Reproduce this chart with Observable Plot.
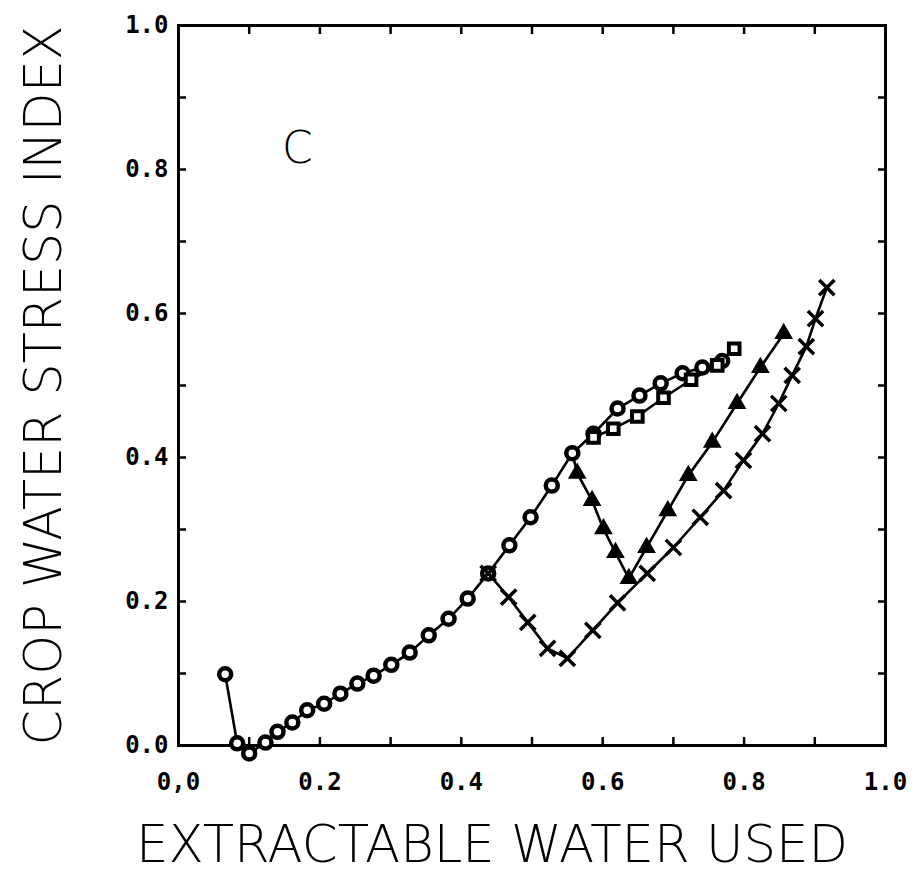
<!DOCTYPE html>
<html>
<head>
<meta charset="utf-8">
<script src="https://cdn.jsdelivr.net/npm/d3@7"></script>
<script src="https://cdn.jsdelivr.net/npm/@observablehq/plot@0.6"></script>
<style>
  html, body { margin: 0; padding: 0; background: #fff; }
  #chart { width: 918px; height: 889px; }
</style>
</head>
<body>
<div id="chart"></div>
<script>
// Tick values and labels
const xLabelTicks = [0, 0.2, 0.4, 0.6, 0.8, 1.0];
const xLabelTexts = ["0,0", "0.2", "0.4", "0.6", "0.8", "1.0"];
const yLabelTicks = [0, 0.2, 0.4, 0.6, 0.8, 1.0];
const yLabelTexts = ["0.0", "0.2", "0.4", "0.6", "0.8", "1.0"];
const minorTicks = [0.1, 0.2, 0.3, 0.4, 0.5, 0.6, 0.7, 0.8, 0.9];

// Series: open circles (main curve)
const circleX = [0.066, 0.083, 0.100, 0.123, 0.140, 0.161, 0.182, 0.206, 0.229, 0.253, 0.276, 0.301, 0.327, 0.354, 0.382, 0.409, 0.438, 0.468, 0.498, 0.528, 0.557, 0.587, 0.621, 0.652, 0.682, 0.713, 0.741, 0.769];
const circleY = [0.099, 0.003, -0.011, 0.004, 0.019, 0.032, 0.049, 0.058, 0.072, 0.086, 0.097, 0.112, 0.129, 0.153, 0.176, 0.204, 0.239, 0.278, 0.317, 0.361, 0.406, 0.433, 0.468, 0.486, 0.503, 0.517, 0.525, 0.534];

// Series: open squares (lower branch of upper cluster)
const squareX = [0.587, 0.615, 0.649, 0.686, 0.725, 0.762, 0.786];
const squareY = [0.428, 0.440, 0.457, 0.483, 0.508, 0.528, 0.551];

// Series: filled triangles (branch starts at the circle curve)
const triX = [0.557, 0.564, 0.585, 0.601, 0.618, 0.637, 0.662, 0.692, 0.721, 0.755, 0.790, 0.823, 0.856];
const triY = [0.406, 0.378, 0.340, 0.301, 0.268, 0.232, 0.275, 0.326, 0.375, 0.421, 0.475, 0.525, 0.572];

// Series: crosses
const crossX = [0.438, 0.467, 0.494, 0.522, 0.550, 0.586, 0.621, 0.663, 0.700, 0.738, 0.771, 0.799, 0.826, 0.849, 0.868, 0.888, 0.901, 0.917];
const crossY = [0.239, 0.206, 0.171, 0.135, 0.121, 0.160, 0.198, 0.239, 0.275, 0.317, 0.354, 0.396, 0.433, 0.475, 0.514, 0.554, 0.593, 0.636];

const panelLabel = "C";
const xTitle = "EXTRACTABLE WATER USED";
const yTitle = "CROP WATER STRESS INDEX";

const toPts = (xs, ys) => xs.map((x, i) => ({x, y: ys[i]}));
const circles = toPts(circleX, circleY);
const squares = toPts(squareX, squareY);
const tris = toPts(triX, triY);
const crosses = toPts(crossX, crossY);

const tickFont = {fontFamily: "DejaVu Sans Mono", fontWeight: "bold", fontSize: 24};
const titleFont = "DejaVu Sans";

const lineStyle = {x: "x", y: "y", stroke: "black", strokeWidth: 2.6};

const plot = Plot.plot({
  width: 918,
  height: 889,
  marginLeft: 178,
  marginRight: 33,
  marginTop: 25,
  marginBottom: 144,
  x: {domain: [0, 1]},
  y: {domain: [0, 1]},
  style: {background: "white", color: "black"},
  marks: [
    // inward minor ticks on all four sides
    Plot.axisX(minorTicks, {anchor: "bottom", tickSize: -8, strokeWidth: 2.5, tickFormat: () => "", label: null}),
    Plot.axisX(minorTicks, {anchor: "top", tickSize: -8, strokeWidth: 2.5, tickFormat: () => "", label: null}),
    Plot.axisY(minorTicks, {anchor: "left", tickSize: -8, strokeWidth: 2.5, tickFormat: () => "", label: null}),
    Plot.axisY(minorTicks, {anchor: "right", tickSize: -8, strokeWidth: 2.5, tickFormat: () => "", label: null}),
    // tick labels
    Plot.axisX(xLabelTicks, {anchor: "bottom", tickSize: 0, tickPadding: 27, label: null,
      tickFormat: (d) => xLabelTexts[xLabelTicks.indexOf(d)], ...tickFont}),
    Plot.axisY(yLabelTicks, {anchor: "left", tickSize: 0, tickPadding: 10, label: null,
      tickFormat: (d) => yLabelTexts[yLabelTicks.indexOf(d)], ...tickFont}),
    Plot.frame({stroke: "black", strokeWidth: 3}),
    // lines
    Plot.line(circles, lineStyle),
    Plot.line(squares, lineStyle),
    Plot.line(tris, lineStyle),
    Plot.line(crosses, lineStyle),
    // markers
    Plot.dot(circles, {x: "x", y: "y", r: 6, fill: "white", stroke: "black", strokeWidth: 4.5}),
    Plot.dot(squares, {x: "x", y: "y", r: 6, symbol: "square", fill: "white", stroke: "black", strokeWidth: 4}),
    Plot.dot(tris.slice(1), {x: "x", y: "y", r: 6, symbol: "triangle", fill: "black", stroke: "black", strokeWidth: 1.5}),
    Plot.dot(crosses, {x: "x", y: "y", r: 7, symbol: "times", stroke: "black", strokeWidth: 3.5}),
    // panel label
    Plot.text([panelLabel], {x: 0.168, y: 0.829, text: (d) => d, fontSize: 44, fontFamily: titleFont, fontWeight: 300}),
    // axis titles
    Plot.text([yTitle], {frameAnchor: "left", dx: -134, rotate: -90, textAnchor: "middle", lineAnchor: "middle", text: (d) => d,
      fontSize: 52, fontFamily: titleFont, fontWeight: 300, className: "ytitle"}),
    Plot.text([xTitle], {frameAnchor: "bottom", dx: -40, dy: 100, textAnchor: "middle", lineAnchor: "middle", text: (d) => d,
      fontSize: 52, fontFamily: titleFont, fontWeight: 300, className: "xtitle"})
  ]
});
d3.select(plot).selectAll(".ytitle text").attr("textLength", 720).attr("lengthAdjust", "spacingAndGlyphs");
d3.select(plot).selectAll(".xtitle text").attr("textLength", 712).attr("lengthAdjust", "spacingAndGlyphs");
document.getElementById("chart").appendChild(plot);
</script>
</body>
</html>
